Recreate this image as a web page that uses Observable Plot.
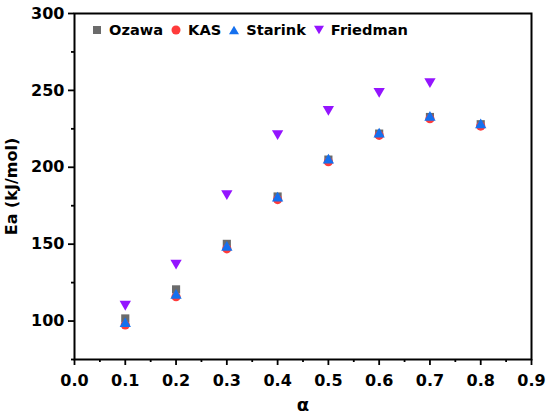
<!DOCTYPE html>
<html><head><meta charset="utf-8">
<script src="https://cdn.jsdelivr.net/npm/d3@7"></script>
<script src="https://cdn.jsdelivr.net/npm/@observablehq/plot@0.6"></script>
<style>
body{margin:0;background:#fff;}
#wrap{position:relative;width:550px;height:416px;}
#chart svg{font-family:"DejaVu Sans",sans-serif;font-weight:bold;}
#chart [aria-label="y-axis label"] text{font-size:16px;}
#chart [aria-label="x-axis label"] text{font-size:18px;}
#legend{position:absolute;left:92px;top:21px;display:flex;align-items:center;font:bold 14.6px "DejaVu Sans",sans-serif;line-height:17px;color:#000;}
#legend span{display:flex;align-items:center;margin-right:8px;}
#legend svg{margin-right:7px;}
</style></head>
<body><div id="wrap"><div id="chart"></div><div id="legend"></div></div>
<script>
const alpha = [0.1,0.2,0.3,0.4,0.5,0.6,0.7,0.8];
const ozawa = [101.7,120.6,150.2,181,205,221.9,232.7,228];
const kas = [97.5,115.8,147,179,203.6,220.8,231.6,226.8];
const starink = [98.3,116.6,147.8,179.8,204.5,221.5,232.4,227.5];
const alphaF = [0.1,0.2,0.3,0.4,0.5,0.6,0.7];
const friedman = [111,137.7,183,222,237.7,249.5,255.8];
const xTicks = [0,0.1,0.2,0.3,0.4,0.5,0.6,0.7,0.8,0.9];
const xMinor = [0.05,0.15,0.25,0.35,0.45,0.55,0.65,0.75,0.85];
const yTicks = [100,150,200,250,300];
const yMinor = [75,125,175,225,275];
const names = ["Ozawa","KAS","Starink","Friedman"];
const colors = {Ozawa:"#6b6b6b",KAS:"#ff3b3b",Starink:"#1570ee",Friedman:"#9414ff"};

const rows = (xs, ys) => xs.map((x,i)=>({x, y: ys[i]}));
const plot = Plot.plot({
  width:550, height:416,
  marginLeft:74, marginTop:13, marginRight:19, marginBottom:57,
  style:{fontSize:"16px", color:"#000"},
  x:{domain:[0,0.9]},
  y:{domain:[75,300]},
  marks:[
    Plot.axisX(xMinor,{tickSize:3, text:null, label:null, strokeWidth:1.8}),
    Plot.axisY(yMinor,{tickSize:3, text:null, label:null, strokeWidth:1.8}),
    Plot.axisX(xTicks,{tickSize:6, tickPadding:9, strokeWidth:1.8, tickFormat:d3.format(".1f"),
      label:"α", labelAnchor:"center", labelArrow:"none", labelOffset:51}),
    Plot.axisY(yTicks,{tickSize:6, tickPadding:4, strokeWidth:1.8,
      label:"Ea (kJ/mol)", labelAnchor:"center", labelArrow:"none", labelOffset:69}),
    Plot.frame({stroke:"#000", strokeWidth:2}),
    Plot.dot(rows(alphaF, friedman), {x:"x", y:"y", symbol:"triangle", rotate:180, r:4.2, fill:colors.Friedman}),
    Plot.dot(rows(alpha, ozawa), {x:"x", y:"y", symbol:"square", r:4.6, fill:colors.Ozawa}),
    Plot.dot(rows(alpha, kas), {x:"x", y:"y", symbol:"circle", r:4.6, fill:colors.KAS}),
    Plot.dot(rows(alpha, starink), {x:"x", y:"y", symbol:"triangle", r:4.2, fill:colors.Starink})
  ]
});
document.getElementById("chart").appendChild(plot);

const shapes = {
  Ozawa:'<rect x="1" y="1" width="8" height="8"/>',
  KAS:'<circle cx="5" cy="5" r="4.5"/>',
  Starink:'<path d="M5 0.8L10 9.2H0Z"/>',
  Friedman:'<path d="M5 9.2L10 0.8H0Z"/>'
};
const leg = document.getElementById("legend");
for (const n of names) {
  const s = document.createElement("span");
  s.innerHTML = `<svg width="10" height="10" fill="${colors[n]}">${shapes[n]}</svg>${n}`;
  leg.appendChild(s);
}
</script></body></html>
